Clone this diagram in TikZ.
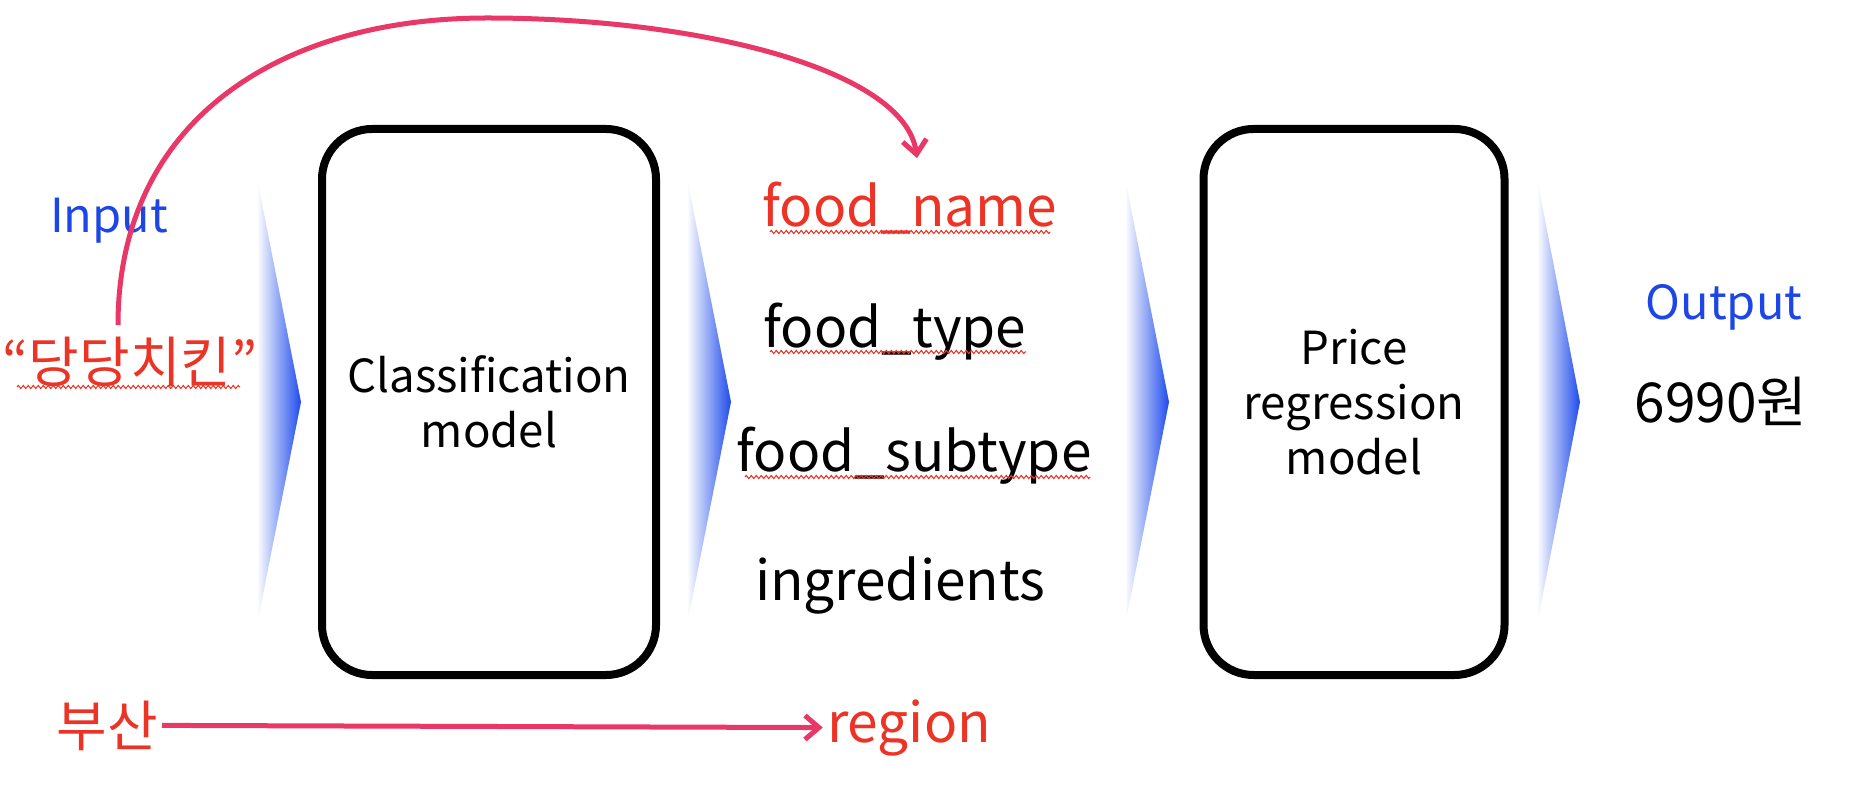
\documentclass[tikz,border=0pt]{standalone}
\usepackage{fontspec}
\setmainfont{Noto Sans CJK KR}
\usepackage{tikz}
\usetikzlibrary{arrows.meta,decorations.pathmorphing}
\definecolor{txtred}{RGB}{236,52,38}
\definecolor{arrpink}{RGB}{233,55,103}
\definecolor{txtblue}{RGB}{28,70,230}
\definecolor{chevblue}{RGB}{30,75,235}

\begin{document}
\begin{tikzpicture}[x=0.5pt,y=-0.5pt,
	bigtext/.style={font=\fontsize{27.5}{33}\selectfont,inner sep=2pt,anchor=base},
	midtext/.style={font=\fontsize{23.5}{27.5}\selectfont,inner sep=2pt,anchor=base},
	model/.style={draw,line width=4pt,rounded corners=25pt,align=center,
		font=\fontsize{22.8}{27.5}\selectfont,minimum height=273pt},
	squiggle/.style={txtred,line width=0.5pt,decorate,
		decoration={zigzag,segment length=2.5pt,amplitude=0.8pt}},
	pinkarrow/.style={arrpink,line width=2.5pt,-{Straight Barb[length=7pt,width=12pt]}}]
	\useasboundingbox (0,0) rectangle (1862,806);
	% chevrons
	\foreach \l/\r in {257/301,687/731,1125/1169,1537/1580}
		\shade[left color=white,right color=chevblue] (\l,178) -- (\r,402) -- (\l,625) -- cycle;
	% input side
	\node[midtext,txtblue] (input) at (109,233) {Input};
	\node[bigtext,txtred] (dang) at (130,383) {“당당치킨”};
	\node[bigtext,txtred] (busan) at (107,746) {부산};
	% models
	\node[model,minimum width=167pt] (classify) at (489,402) {Classification\\model};
	\node[model,minimum width=150.5pt] (price) at (1354,402) {Price\\regression\\model};
	% features
	\node[bigtext,txtred] (fname) at (910,227) {food\_name};
	\node[bigtext] (ftype) at (895,348) {food\_type};
	\node[bigtext] (fsub) at (914,472) {food\_subtype};
	\node[bigtext] (ingr) at (900,600) {ingredients};
	\node[bigtext,txtred] (region) at (909,742) {region};
	% output side
	\node[midtext,txtblue] (output) at (1724,320) {Output};
	\node[bigtext] (price6990) at (1721,423) {6990원};
	% spell-check squiggles
	\draw[squiggle] (17,387) -- (240,387);
	\draw[squiggle] (770,232) -- (1050,232);
	\draw[squiggle] (770,352) -- (1026,352);
	\draw[squiggle] (745,477) -- (1090,477);
	% arrows
	\coordinate (peak) at (487,18);
	\draw[pinkarrow] ([xshift=-6pt,yshift=4pt]dang.north) .. controls (118,120) and (280,18) .. (peak)
		.. controls (700,18) and (905,70) .. ([xshift=3.5pt,yshift=10pt]fname.north);
	\draw[pinkarrow] (busan.east) -- (region.west);
\end{tikzpicture}
\end{document}
